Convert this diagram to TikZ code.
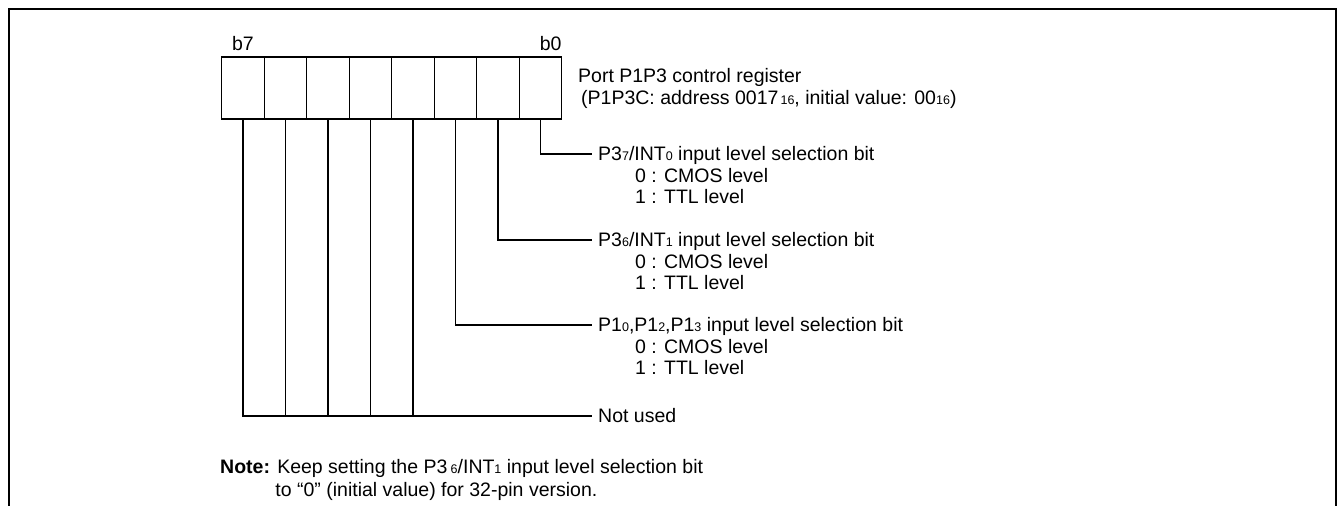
\documentclass[tikz,border=0pt]{standalone}
\usepackage{fontspec}
\setmainfont{Liberation Sans}
\usetikzlibrary{positioning}
\newcommand{\lo}[1]{{\fontsize{12.5}{12.5}\selectfont #1}}

\begin{document}
\begin{tikzpicture}[x=1pt,y=-1pt,node distance=0pt,font=\fontsize{19.5}{21}\selectfont]
    \tikzstyle{cell}=[draw,line width=1.3pt,outer sep=0pt,inner sep=0pt,minimum width=42.5pt,minimum height=62pt]
    \tikzstyle{lbl}=[inner sep=0pt,anchor=base west,align=left]
    \tikzstyle{wire}=[line width=1.3pt]

    \useasboundingbox (0,0) rectangle (1339,506);
    \draw[line width=2pt] (9,506) -- (9,9) -- (1336,9) -- (1336,506);

    % register, b7 on the left
    \node[cell] (r7) at (243,88) {};
    \node[cell] (r6) [right=of r7] {};
    \node[cell] (r5) [right=of r6] {};
    \node[cell] (r4) [right=of r5] {};
    \node[cell] (r3) [right=of r4] {};
    \node[cell] (r2) [right=of r3] {};
    \node[cell] (r1) [right=of r2] {};
    \node[cell] (r0) [right=of r1] {};

    \node[lbl,anchor=base] (lb7) at ([yshift=7pt]r7.north) {b7};
    \node[lbl,anchor=base east] (lb0) at ([yshift=7pt]r0.north east) {b0};

    \node[lbl,anchor=north west,font=\fontsize{19.5}{22}\selectfont] (title) at (578,68)
        {Port P1P3 control register\\\hspace*{3pt}(P1P3C: address 0017\lo{\,16}, initial value: 00\lo{16})};

    % bit lines
    \coordinate (e0) at (592,154);
    \coordinate (e1) at (592,240);
    \coordinate (e2) at (592,325);
    \coordinate (e7) at (592,416);

    \draw[wire] (r0.south) |- (e0);
    \draw[wire] (r1.south) |- (e1);
    \draw[wire] (r2.south) |- (e2);
    \draw[wire] (r7.south) |- (e7);
    \foreach \i in {6,...,3}
        \draw[wire] (r\i.south) -- (r\i.south |- e7);

    \node[lbl] (t0) at ([xshift=6pt,yshift=-6.8pt]e0) {P3\lo{7}/INT\lo{0} input level selection bit};
    \node[lbl,anchor=north west] (o0) at ([xshift=37pt,yshift=-7pt]t0.base west) {0 : CMOS level\\1 : TTL level};

    \node[lbl] (t1) at ([xshift=6pt,yshift=-6.8pt]e1) {P3\lo{6}/INT\lo{1} input level selection bit};
    \node[lbl,anchor=north west] (o1) at ([xshift=37pt,yshift=-7pt]t1.base west) {0 : CMOS level\\1 : TTL level};

    \node[lbl] (t2) at ([xshift=6pt,yshift=-6.8pt]e2) {P1\lo{0},P1\lo{2},P1\lo{3} input level selection bit};
    \node[lbl,anchor=north west] (o2) at ([xshift=37pt,yshift=-7pt]t2.base west) {0 : CMOS level\\1 : TTL level};

    \node[lbl] (t7) at ([xshift=6pt,yshift=-6.8pt]e7) {Not used};

    % note
    \node[lbl,anchor=north west,font=\fontsize{19.5}{23}\selectfont] (note) at (220,459)
        {\textbf{Note:} Keep setting the P3\,\lo{6}/INT\lo{1} input level selection bit\\
         \phantom{\textbf{Note:}\ }to “0” (initial value) for 32-pin version.};
\end{tikzpicture}
\end{document}
